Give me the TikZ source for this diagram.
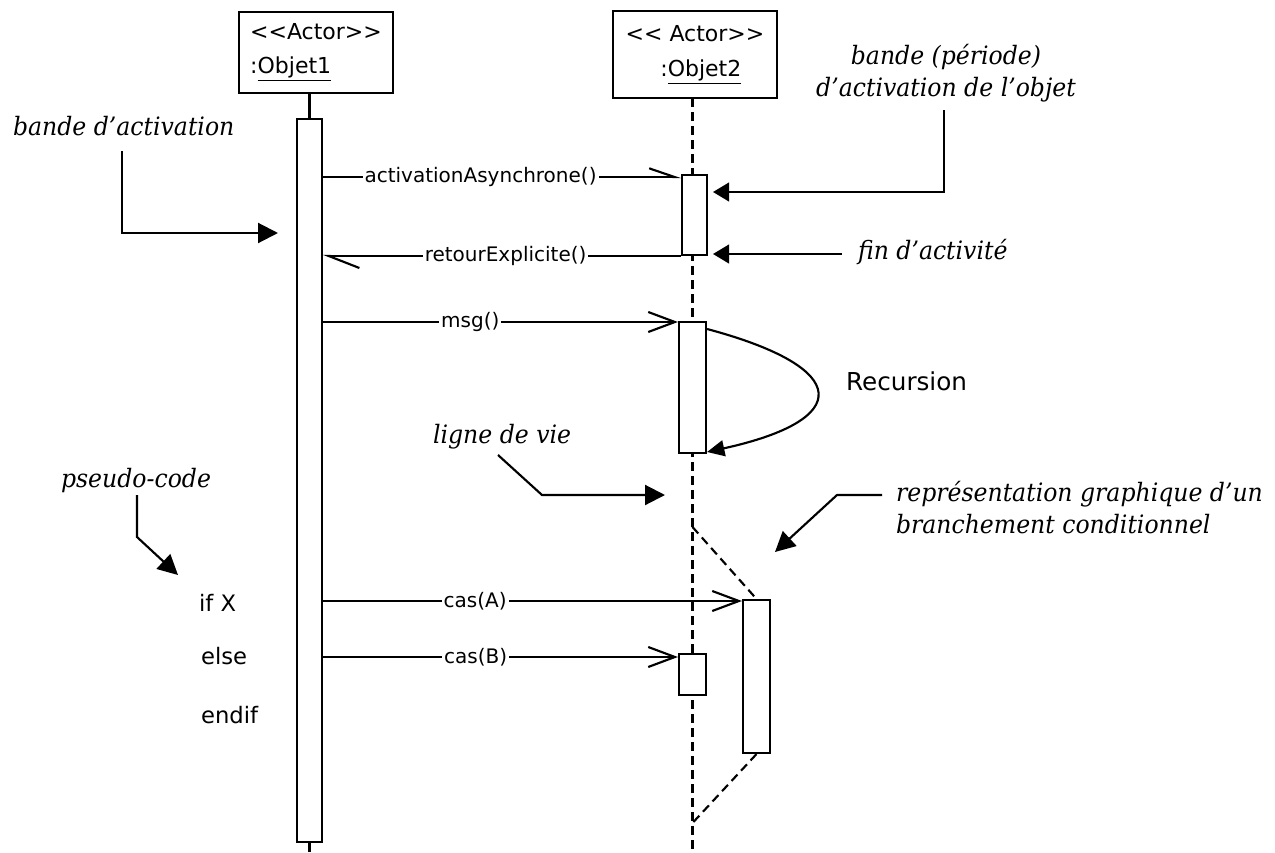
\documentclass[tikz,border=0pt]{standalone}
\usepackage{fontspec}
\newfontfamily\lblfont{DejaVu Sans}
\newfontfamily\notefont{DejaVu Serif}[FakeStretch=0.93]
\usetikzlibrary{arrows.meta}
\begin{document}
\begin{tikzpicture}[x=0.75pt, y=-0.75pt, line width=1.6pt,
  objbox/.style={draw, inner sep=0pt, align=left, font=\lblfont\fontsize{16.5}{25.5}\selectfont},
  bar/.style={draw, fill=white, inner sep=0pt},
  life/.style={dash pattern=on 6.5pt off 4pt},
  msglbl/.style={fill=white, inner sep=1.5pt, font=\lblfont\fontsize{15}{18}\selectfont},
  codelbl/.style={inner sep=0pt, font=\lblfont\fontsize{17}{20}\selectfont},
  note/.style={inner sep=0pt, font=\notefont\itshape\fontsize{19}{23.5}\selectfont},
  sync/.style={-{Straight Barb[length=20pt,width=15pt]}},
  async/.style={-{Straight Barb[harpoon,length=19pt,width=13pt]}},
  retmsg/.style={-{Straight Barb[harpoon,length=23pt,width=18pt]}},
  notearrow/.style={-{Triangle[length=15pt,width=15pt]}},
  smallarrow/.style={-{Triangle[length=12pt,width=14pt]}},
  recarrow/.style={-{Triangle[length=13pt,width=12pt]}}]
\fill[white] (0,0) rectangle (1275,853);
\useasboundingbox (0,0) rectangle (1275,853);

% objects
\node[objbox, minimum width=115.5pt, minimum height=60.75pt] (box1) at (316,52.5)
  {<<Actor>>\\:\underline{Objet1}};
\node[objbox, minimum width=123pt, minimum height=65.25pt, font=\lblfont\fontsize{16.5}{26.25}\selectfont] (box2) at (695,54.5)
  {<< Actor>>\\\hspace*{26pt}:\underline{Objet2}};

% lifelines
\coordinate (l1end) at (309.5,853);
\coordinate (l2top) at (692.5,98);
\coordinate (l2end) at (692.5,853);
\draw[life] (l2top) -- (l2end);

\node[bar, minimum width=18.75pt, minimum height=542.25pt] (bar1) at (309.5,480.5) {};
\draw (box1.south -| bar1) -- (bar1.north);
\draw[life] (bar1.south) -- (l1end);

\node[bar, minimum width=18.75pt, minimum height=60pt] (bar2a) at (694.5,215) {};
\node[bar, minimum width=20.25pt, minimum height=98.25pt] (bar2b) at (692.5,387.5) {};
\node[bar, minimum width=20.25pt, minimum height=114.75pt] (bar2c) at (756.5,676.5) {};
\node[bar, minimum width=20.25pt, minimum height=30.75pt] (bar2d) at (692.5,674.5) {};

% conditional branch
\coordinate (bk1) at (692.5,527);
\coordinate (bk2) at (692.5,823);
\draw[life] (bk1) -- (bar2c.north);
\draw[life] (bar2c.south) -- (bk2);

% messages
\draw[async] (bar1.east |- 0,177) -- node[msglbl, pos=0.44] {activationAsynchrone()} (bar2a.west |- 0,177);
\draw[retmsg] (bar2a.west |- 0,256) -- node[msglbl, pos=0.49] {retourExplicite()} (bar1.east |- 0,256);
\draw[sync] (bar1.east |- 0,322) -- node[msglbl, pos=0.415] {msg()} (bar2b.west |- 0,322);
\draw[sync] (bar1.east |- 0,601) -- node[msglbl, pos=0.363] {cas(A)} (bar2c.west |- 0,601);
\draw[sync] (bar1.east |- 0,657) -- node[msglbl, pos=0.43] {cas(B)} (bar2d.west |- 0,657);

% recursion
\draw[recarrow] (bar2b.east |- 0,329) .. controls (853,368) and (853,420) .. (bar2b.east |- 0,452);
\node[inner sep=0pt, anchor=base west, font=\lblfont\fontsize{18.5}{22}\selectfont] (nRec) at (845,390) {Recursion};

% pseudo-code
\node[codelbl, anchor=base west] (cIf) at (198,611) {if X};
\node[codelbl, anchor=base west] (cElse) at (200,664) {else};
\node[codelbl, anchor=base west] (cEnd) at (200,723) {endif};

% annotations
\node[note, anchor=base west] (nActiv) at (12,135) {bande d’activation};
\coordinate (sActiv) at (122,151);
\coordinate (tActiv) at (278,233);
\draw[notearrow] (sActiv) |- (tActiv);

\node[note, align=center, anchor=base] (nBande) at (946,96) {bande (période)\\d’activation de l’objet};
\coordinate (sBande) at (944,110);
\coordinate (tBande) at (713,192);
\draw[smallarrow] (sBande) |- (tBande);

\node[note, anchor=base west] (nFin) at (857,259) {fin d’activité};
\coordinate (sFin) at (842,254);
\coordinate (tFin) at (713,254);
\draw[smallarrow] (sFin) -- (tFin);

\node[note, anchor=base west] (nVie) at (432,443) {ligne de vie};
\coordinate (sVie) at (498,455);
\coordinate (kVie) at (542,495);
\coordinate (tVie) at (665,495);
\draw[notearrow] (sVie) -- (kVie) -- (tVie);

\node[note, align=left, anchor=base west] (nRep) at (895,533) {représentation graphique d’un\\branchement conditionnel};
\coordinate (sRep) at (882,495);
\coordinate (kRep) at (837,495);
\coordinate (tRep) at (775,552);
\draw[notearrow] (sRep) -- (kRep) -- (tRep);

\node[note, anchor=base west] (nPs) at (60,487) {pseudo-code};
\coordinate (sPs) at (137,495);
\coordinate (kPs) at (137,537);
\coordinate (tPs) at (178,575);
\draw[notearrow] (sPs) -- (kPs) -- (tPs);
\end{tikzpicture}
\end{document}
